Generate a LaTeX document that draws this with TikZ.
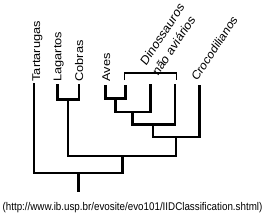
\documentclass[tikz,border=0pt]{standalone}
\usepackage{fontspec}
\setmainfont{Liberation Sans}
\begin{document}
\begin{tikzpicture}[x=1pt,y=-1pt,
  tree/.style={line width=2.4pt, line cap=rect, line join=miter},
  bracketline/.style={line width=1.2pt},
  lab/.style={font=\fontsize{11.2}{13}\selectfont, inner sep=0pt},
  dlab/.style={font=\fontsize{11.6}{13}\selectfont, inner sep=0pt},
  src/.style={font=\fontsize{9.8}{11}\selectfont, inner sep=0pt}]
\useasboundingbox (0,0) rectangle (265,214);
% tips
\coordinate (T) at (34,84);
\coordinate (L) at (57.5,85);
\coordinate (C) at (79,85);
\coordinate (A) at (105.5,86.5);
\coordinate (D1) at (125.5,86.5);
\coordinate (D2) at (150.5,85);
\coordinate (D3) at (175,85);
\coordinate (Cr) at (199.5,86);
% joins
\coordinate (jLC) at (68.25,99.3);
\coordinate (j1) at (115.5,98.5);
\coordinate (j2) at (132.5,112);
\coordinate (j3) at (153,124.5);
\coordinate (j4) at (176,137);
\coordinate (j5) at (122.3,155.7);
\coordinate (j6) at (78.5,173);
\coordinate (root) at (78.5,190.7);
% tree
\draw[tree] (L) |- (jLC) -| (C);
\draw[tree] (A) |- (j1) -| (D1);
\draw[tree] (j1) |- (j2) -| (D2);
\draw[tree] (j2) |- (j3) -| (D3);
\draw[tree] (j3) |- (j4) -| (Cr);
\draw[tree] (jLC) |- (j5) -| (j4);
\draw[tree] (T) |- (j6) -| (j5);
\draw[tree] (j6) -- (root);
% bracket
\coordinate (b1) at (124.5,80);
\coordinate (b2) at (176.5,80);
\coordinate (btop) at (150,73);
\draw[bracketline] (b1) |- (btop) -| (b2);
% label anchors
\coordinate (lT) at (40,81.7);
\coordinate (lL) at (61.3,81.7);
\coordinate (lC) at (83,81.7);
\coordinate (lA) at (110,81.7);
\coordinate (lD1) at (146,66.5);
\coordinate (lD2) at (158,77);
\coordinate (lCr) at (197,82);
\coordinate (lsrc) at (132.5,210.6);
\begin{scope}[yscale=1.14, transform shape]
\node[lab, rotate=90, anchor=base west] (tTart) at (lT) {Tartarugas};
\node[lab, rotate=90, anchor=base west] (tLag) at (lL) {Lagartos};
\node[lab, rotate=90, anchor=base west] (tCob) at (lC) {Cobras};
\node[lab, rotate=90, anchor=base west] (tAves) at (lA) {Aves};
\node[dlab, rotate=53, anchor=base west] (tDino1) at (lD1) {Dinossauros};
\node[dlab, rotate=53, anchor=base west] (tDino2) at (lD2) {não aviários};
\node[lab, rotate=53, anchor=base west] (tCroc) at (lCr) {Crocodilianos};
\node[src, anchor=base] (tsrc) at (lsrc) {(http://www.ib.usp.br/evosite/evo101/IIDClassification.shtml)};
\end{scope}
\end{tikzpicture}
\end{document}
